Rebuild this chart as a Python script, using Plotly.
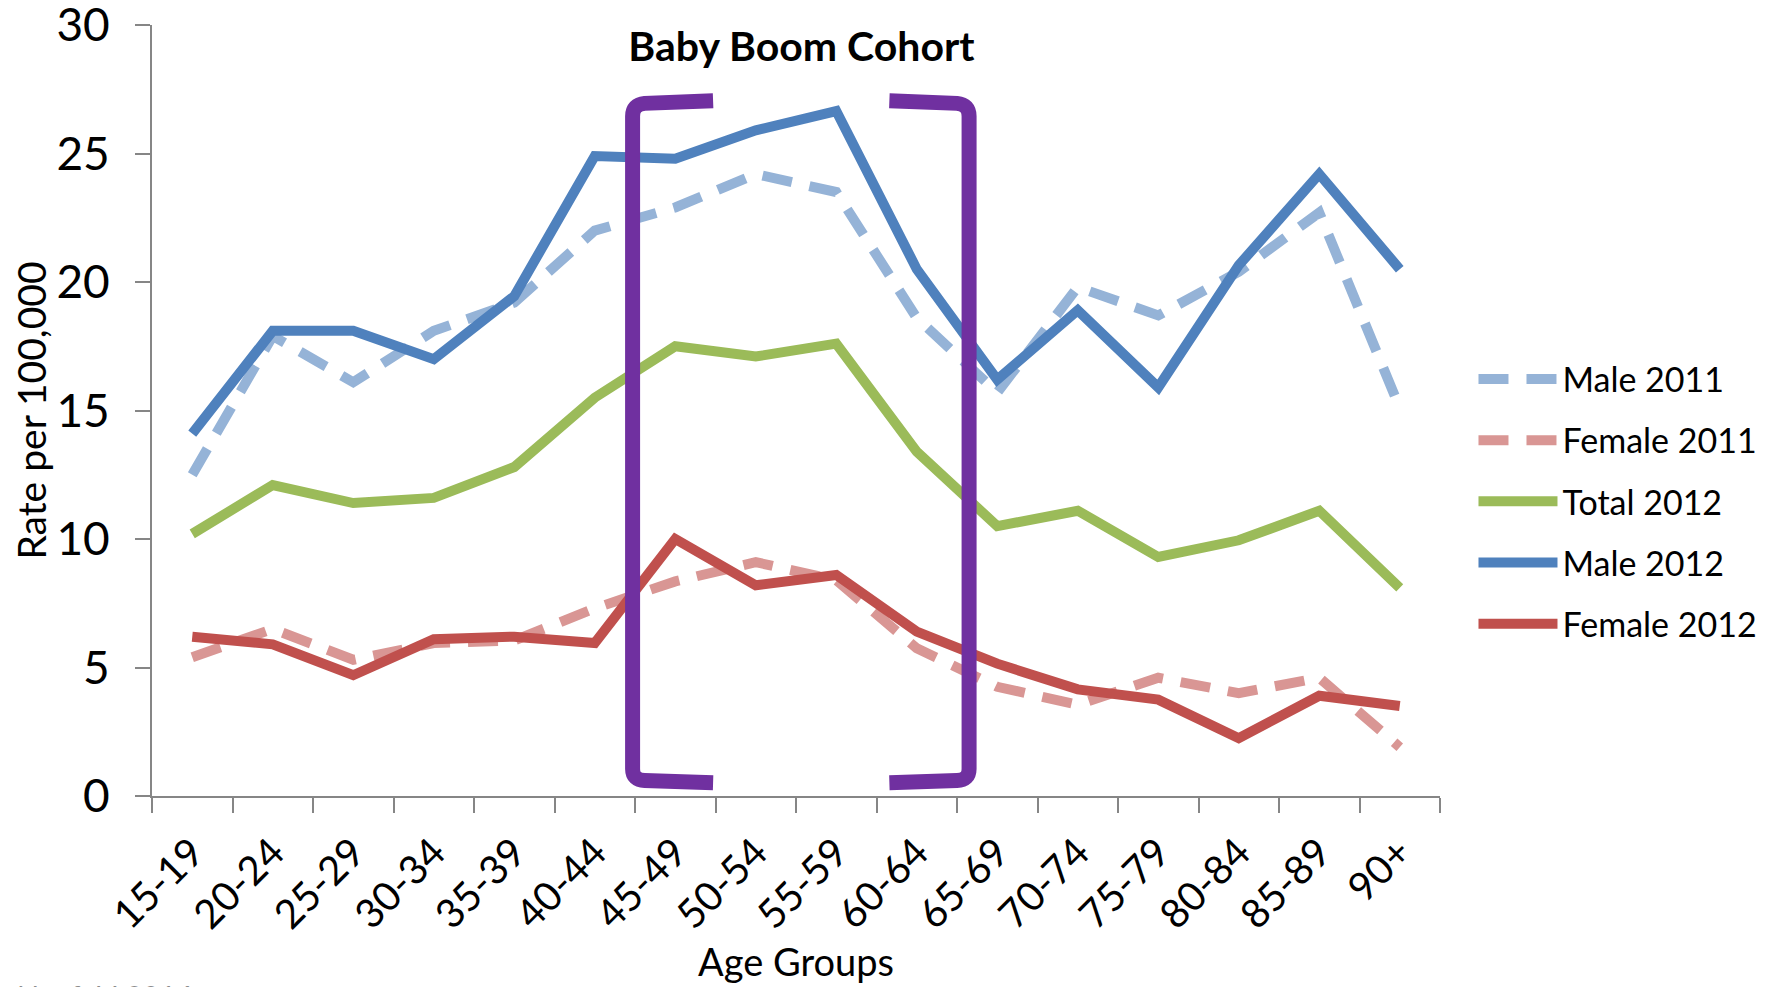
import plotly.graph_objects as go

categories = ["15-19", "20-24", "25-29", "30-34", "35-39", "40-44", "45-49", "50-54",
              "55-59", "60-64", "65-69", "70-74", "75-79", "80-84", "85-89", "90+"]

male_2011 = [12.5, 17.9, 16.1, 18.1, 19.2, 22.0, 22.9, 24.2, 23.5, 18.6, 15.7, 19.8, 18.7, 20.4, 22.7, 15.1]
female_2011 = [5.4, 6.5, 5.3, 5.95, 6.05, 7.3, 8.35, 9.1, 8.4, 5.75, 4.25, 3.55, 4.6, 4.0, 4.6, 1.9]
total_2012 = [10.2, 12.1, 11.4, 11.6, 12.8, 15.5, 17.5, 17.1, 17.6, 13.4, 10.5, 11.1, 9.3, 9.95, 11.1, 8.1]
male_2012 = [14.1, 18.1, 18.1, 17.0, 19.45, 24.9, 24.8, 25.9, 26.65, 20.5, 16.2, 18.9, 15.9, 20.65, 24.2, 20.5]
female_2012 = [6.2, 5.9, 4.7, 6.1, 6.2, 5.95, 10.0, 8.2, 8.6, 6.4, 5.15, 4.15, 3.75, 2.25, 3.9, 3.5]

y_ticks = [0, 5, 10, 15, 20, 25, 30]

series = [
    ("Male 2011", male_2011, "#95B3D7", "30px,18px"),
    ("Female 2011", female_2011, "#D99694", "30px,18px"),
    ("Total 2012", total_2012, "#9BBB59", "solid"),
    ("Male 2012", male_2012, "#4F81BD", "solid"),
    ("Female 2012", female_2012, "#C0504D", "solid"),
]

x_idx = list(range(len(categories)))
FONT = "Lato"

fig = go.Figure()
for i, (name, vals, color, dash) in enumerate(series):
    fig.add_trace(go.Scatter(
        x=x_idx, y=vals, name=name, mode="lines",
        line=dict(color=color, width=10, dash=dash),
        legendgroup=f"g{i}",
    ))

purple = "#7030A0"
# left bracket
fig.add_shape(type="path", xref="x", yref="y", layer="above",
              path="M 6.47,27.05 L 5.62,26.95 Q 5.47,26.9 5.47,26.45 L 5.47,1.05 Q 5.47,0.62 5.62,0.6 L 6.47,0.52",
              line=dict(color=purple, width=15))
# right bracket
fig.add_shape(type="path", xref="x", yref="y", layer="above",
              path="M 8.66,27.05 L 9.5,26.95 Q 9.65,26.9 9.65,26.45 L 9.65,1.05 Q 9.65,0.62 9.5,0.6 L 8.66,0.52",
              line=dict(color=purple, width=15))

axis_col = "#868686"
fig.update_layout(
    width=1771, height=987,
    margin=dict(l=144, r=339, t=17, b=199, autoexpand=False),
    paper_bgcolor="white", plot_bgcolor="white",
    font=dict(family=FONT, color="black"),
    title=dict(text="<b>Baby Boom Cohort</b>", x=0.448, xanchor="center",
               y=1 - 39 / 987, yanchor="middle", font=dict(size=41, family=FONT)),
    legend=dict(x=1.026, xanchor="left", y=0.578, yanchor="top",
                font=dict(size=34, family=FONT), tracegroupgap=14,
                traceorder="grouped", itemwidth=79, bgcolor="rgba(0,0,0,0)"),
    xaxis=dict(range=[-0.5, 15.5], tickmode="array", tickvals=x_idx, ticktext=categories,
               tickangle=-45, ticks="", showgrid=False, zeroline=False, automargin=False,
               showline=True, linecolor=axis_col, linewidth=2,
               tickfont=dict(size=40, family=FONT), ticklabelstandoff=15,
               minor=dict(ticks="outside", ticklen=15, tickwidth=2, tickcolor=axis_col,
                          tickmode="linear", tick0=-0.5, dtick=1, showgrid=False),
               title=dict(text="Age Groups", font=dict(size=38, family=FONT), standoff=12)),
    yaxis=dict(range=[0, 30], tickmode="array", tickvals=y_ticks, ticks="outside",
               ticklen=15, tickwidth=2, tickcolor=axis_col, showgrid=False, zeroline=False,
               showline=True, linecolor=axis_col, linewidth=2, automargin=False,
               ticklabeloverflow="allow",
               tickfont=dict(size=46, family=FONT), ticklabelstandoff=16,
               title=dict(text="Rate per 100,000", font=dict(size=39, family=FONT), standoff=9)),
    showlegend=True,
)

fig.add_annotation(text="Neufeld 2016", xref="paper", yref="paper", x=-0.106, y=-0.233,
                   xanchor="left", yanchor="top", showarrow=False,
                   font=dict(size=29, family=FONT, color="#8C8C8C"))
fig.add_annotation(text="Statistics Canada 2015", xref="paper", yref="paper", x=0.9526, y=-0.236,
                   xanchor="left", yanchor="top", showarrow=False,
                   font=dict(size=29, family=FONT, color="black"))

fig.write_html("out.html")
